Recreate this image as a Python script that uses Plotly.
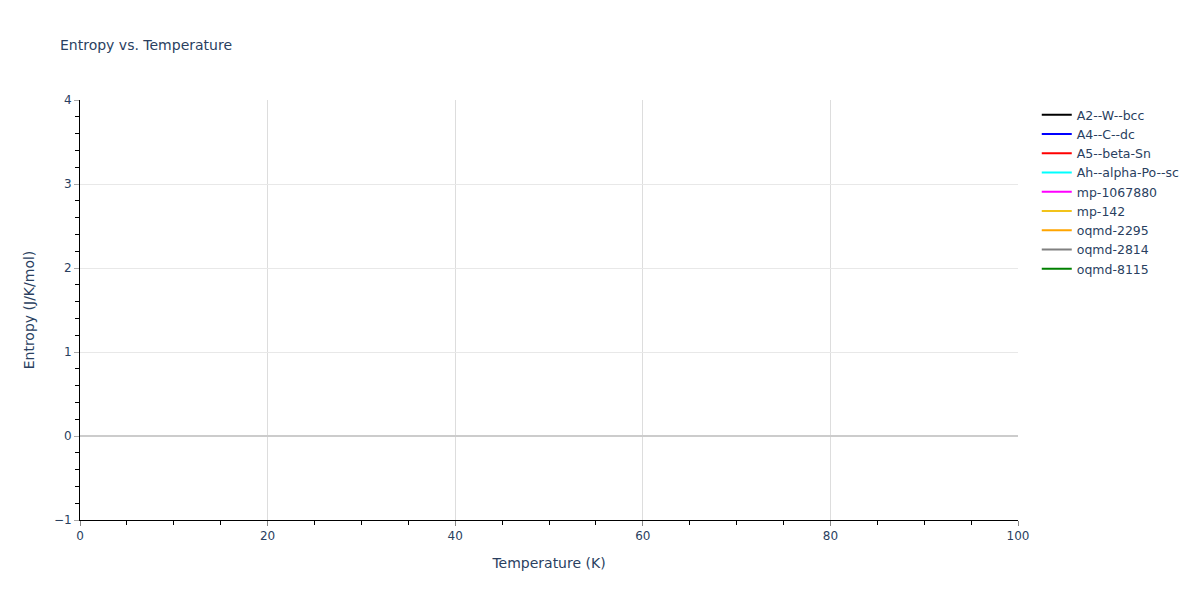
import plotly.graph_objects as go

# series shown in the legend; none of them has a visible entropy value in the plot area
names = ["A2--W--bcc", "A4--C--dc", "A5--beta-Sn", "Ah--alpha-Po--sc", "mp-1067880",
         "mp-142", "oqmd-2295", "oqmd-2814", "oqmd-8115"]
colors = ["black", "blue", "red", "cyan", "magenta", "#f2c31a", "orange", "gray", "green"]
temperature = [0, 100]
entropy = [None, None]

fig = go.Figure()
for name, color in zip(names, colors):
    fig.add_trace(go.Scatter(x=temperature, y=entropy, mode="lines", name=name,
                             line=dict(color=color)))

fig.update_layout(
    template="plotly_white",
    width=1200, height=600,
    margin=dict(l=80, r=182, t=100, b=80),
    title=dict(text="Entropy vs. Temperature", font=dict(size=14)),
    font=dict(family="DejaVu Sans", color="#2a3f5f"),
    legend=dict(font=dict(size=12.5)),
    plot_bgcolor="white",
    showlegend=True,
)
fig.update_xaxes(
    title="Temperature (K)", range=[0, 100],
    showline=True, linecolor="black", linewidth=1,
    ticks="outside", tickcolor="#888888", ticklen=5,
    gridcolor="#dddddd", zeroline=False,
    minor=dict(ticks="outside", dtick=5, ticklen=4, tickcolor="black", showgrid=False),
)
fig.update_yaxes(
    title="Entropy (J/K/mol)", range=[-1, 4],
    showline=True, linecolor="black", linewidth=1,
    ticks="outside", tickcolor="#aaaaaa", ticklen=5,
    gridcolor="#e8e8e8", zeroline=True, zerolinecolor="#cccccc", zerolinewidth=2,
    minor=dict(ticks="outside", dtick=0.2, ticklen=4, tickcolor="black", showgrid=False),
)

fig.write_html("out.html", config={"displayModeBar": False},
               post_script="document.body.style.margin='0';")
